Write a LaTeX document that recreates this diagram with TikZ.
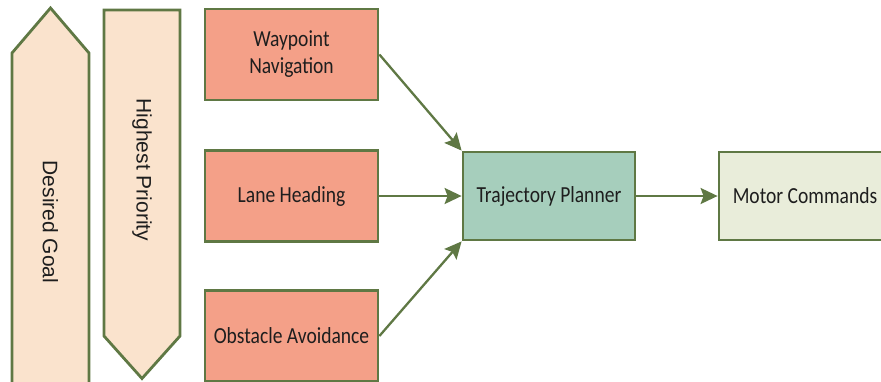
\documentclass[tikz,border=0pt]{standalone}
\usepackage{fontspec}
\setmainfont{Liberation Sans}
\newfontfamily\boxfont[FakeStretch=0.85]{Carlito}
\usetikzlibrary{arrows.meta}
\definecolor{edgegreen}{HTML}{5F7844}
\definecolor{salmon}{HTML}{F4A088}
\definecolor{teal}{HTML}{A6CEBC}
\definecolor{paleolive}{HTML}{E9EDDA}
\definecolor{peach}{HTML}{FAE3CD}
\definecolor{ink}{HTML}{1E1E1E}
\tikzset{
  behaviour/.style={draw=edgegreen, line width=2.8pt, fill=salmon,
    minimum width=173pt, minimum height=91pt, inner sep=0pt,
    font=\boxfont\fontsize{23}{27}\selectfont, text=ink, align=center},
  planner/.style={behaviour, fill=teal},
  output/.style={behaviour, fill=paleolive},
  banner/.style={draw=edgegreen, line width=2.8pt, fill=peach, line join=miter},
  bannertext/.style={font=\fontsize{21}{24}\selectfont, text=ink, rotate=-90},
  flow/.style={draw=edgegreen, line width=2.3pt,
    -{Stealth[length=17pt,width=16pt,inset=3pt]}}
}
\begin{document}
\begin{tikzpicture}[x=1pt,y=-1pt]
\useasboundingbox (0,0) rectangle (881,381);

% priority banners on the left
\draw[banner] (12,392) -- (12,53) -- (50.5,8) -- (89,53) -- (89,392);
\node[bannertext] (goal) at (50.5,222) {Desired Goal};
\draw[banner] (104,10) -- (180,10) -- (180,336) -- (142,378.5) -- (104,336) -- cycle;
\node[bannertext] (prio) at (142,170) {Highest Priority};

% behaviours
\node[behaviour] (wp) at (291.5,54.5) {Waypoint\\Navigation};
\node[behaviour] (lane) at (291.5,196) {Lane Heading};
\node[behaviour] (obs) at (291.5,336) {Obstacle Avoidance};

% planner and output
\node[planner, minimum width=172pt, minimum height=88pt] (tp) at (549,196) {Trajectory Planner};
\node[output, minimum width=172pt, minimum height=88pt] (mc) at (805,196) {Motor Commands};

% connectors
\draw[flow] (wp.east) -- (tp.north west);
\draw[flow] (lane.east) -- (tp.west);
\draw[flow] (obs.east) -- (tp.south west);
\draw[flow] (tp.east) -- (mc.west);
\end{tikzpicture}
\end{document}
